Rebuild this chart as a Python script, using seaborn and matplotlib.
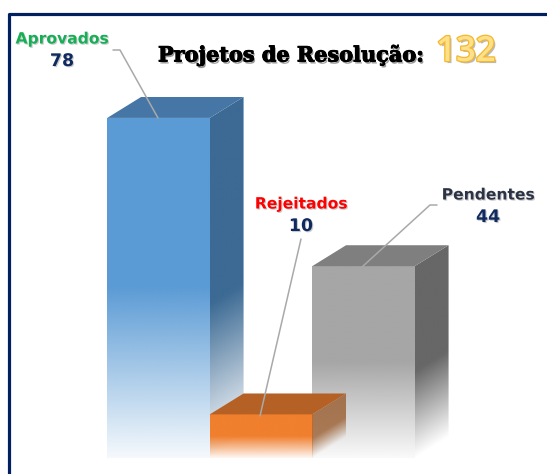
import numpy as np
import seaborn as sns
import matplotlib.pyplot as plt
import matplotlib.patheffects as pe
from matplotlib.colors import to_rgb
from matplotlib.lines import Line2D
from matplotlib.patches import Polygon

# --- Data ---
categories = ["Aprovados", "Rejeitados", "Pendentes"]
values = [78, 10, 44]
total = 132
front_colors = ["#5B9BD5", "#F07F2E", "#A6A6A6"]
side_colors = ["#3C6A94", "#9A5E30", "#676767"]
top_colors = ["#4676A6", "#B56126", "#7F7F7F"]
label_colors = ["#16AE56", "#FF0000", "#2B3345"]

W, H = 547, 474
DX, DY = 0.33, 4.8  # depth of the fake 3d boxes, in data units

sns.set_theme(style="white")
plt.rcParams["font.family"] = ["DejaVu Sans"]

fig, ax = plt.subplots(figsize=(W / 100, H / 100), dpi=100)
ax.set_position([0, 0, 1, 1])

sns.barplot(x=categories, y=values, width=1.0, color="white", ax=ax)
bars = list(ax.patches)


def px(x, y):
    # pixel position to figure fraction
    return x / W, 1 - y / H


def fade_image(color, x0, x1, y0, y1, slant, fade, floor, zorder, clip, alpha=1.0):
    # vertical fade to transparent, following the slant of a side face
    u, t = np.meshgrid(np.linspace(0, 1, 80), np.linspace(1, 0, 300))
    height = y1 - y0 - slant
    level = (t * (y1 - y0) - u * slant) / height
    rgba = np.ones((300, 80, 4))
    rgba[..., :3] = to_rgb(color)
    rgba[..., 3] = alpha * np.clip(floor + (1 - floor) * level / fade, 0, 1)
    rgba[..., 3] *= level >= -0.01
    im = ax.imshow(rgba, extent=(x0, x1, y0, y1), aspect="auto", zorder=zorder,
                   interpolation="bilinear")
    im.set_clip_path(clip)


# Blue first, grey next, orange last: it overlaps both neighbours
for n, i in enumerate([0, 2, 1]):
    bar = bars[i]
    z = 2 + n * 3
    x0, x1 = bar.get_x(), bar.get_x() + bar.get_width()
    v = bar.get_height()
    bar.set_facecolor("none")
    bar.set_edgecolor("none")

    fade_image(front_colors[i], x0, x1, 0, v, 0, 0.5, 0.06, z, bar)

    side = Polygon([(x1, 0), (x1 + DX, DY), (x1 + DX, v + DY), (x1, v)],
                   facecolor="none", edgecolor="none")
    ax.add_patch(side)
    fade_image(side_colors[i], x1, x1 + DX, 0, v + DY, DY, 0.45, 0.0, z + 1, side,
               alpha=0.8 if i == 1 else 1.0)

    ax.add_patch(Polygon([(x0, v), (x0 + DX, v + DY), (x1 + DX, v + DY), (x1, v)],
                         facecolor=top_colors[i], edgecolor="none", zorder=z + 2))

# Same pixel scale as the picture
ax.set_xlim(-158.5 / 102.5, (W - 158.5) / 102.5)
ax.set_ylim(-16 / 4.36, 458 / 4.36)
ax.axis("off")

# --- Frame ---
frame = dict(color="#002060", linewidth=2.3, transform=fig.transFigure, zorder=20)
fig.add_artist(Line2D(*zip(px(9, 474), px(9, 13.5), px(547, 13.5)), **frame))

# --- Leader lines ---
leaders = [
    [(113, 50), (120, 50), (158, 118)],
    [(301, 239), (260, 416)],
    [(437, 205), (430, 205), (362, 267)],
]
for pts in leaders:
    fig.add_artist(Line2D(*zip(*[px(*p) for p in pts]), color="#A9A9A9", linewidth=1.1,
                          transform=fig.transFigure, zorder=15))

# --- Labels ---
soft = [pe.withSimplePatchShadow(offset=(0.8, -0.8), shadow_rgbFace="#999999", alpha=0.5)]
label_pos = [(62, 39), (301, 204), (488, 195)]
value_pos = [(62, 61), (301, 226), (488, 217)]
for i, cat in enumerate(categories):
    fig.text(*px(*label_pos[i]), cat, color=label_colors[i], fontsize=11.2, fontweight="bold",
             ha="center", va="center", path_effects=soft, zorder=16)
    fig.text(*px(*value_pos[i]), str(values[i]), color="#10295F", fontsize=12.5,
             fontweight="bold", ha="center", va="center", path_effects=soft, zorder=16)

# --- Title ---
fig.text(*px(158, 55), "Projetos de Resolução:", color="black", fontsize=15,
         family="DejaVu Serif", fontweight="bold", ha="left", va="center", zorder=16,
         path_effects=[pe.withSimplePatchShadow(offset=(1, -1.5), shadow_rgbFace="#555555", alpha=0.6),
                       pe.withStroke(linewidth=0.7, foreground="black")])
fig.text(*px(466, 52), str(total), color="#FFE08A", fontsize=25, family="Open Sans",
         fontweight="semibold", ha="center", va="center", zorder=16,
         path_effects=[pe.SimplePatchShadow(offset=(1.5, -1.5), shadow_rgbFace="#777777", alpha=0.5),
                       pe.withStroke(linewidth=1.8, foreground="#F2B82E")])

fig.savefig("out.png", dpi=100, facecolor="white")
